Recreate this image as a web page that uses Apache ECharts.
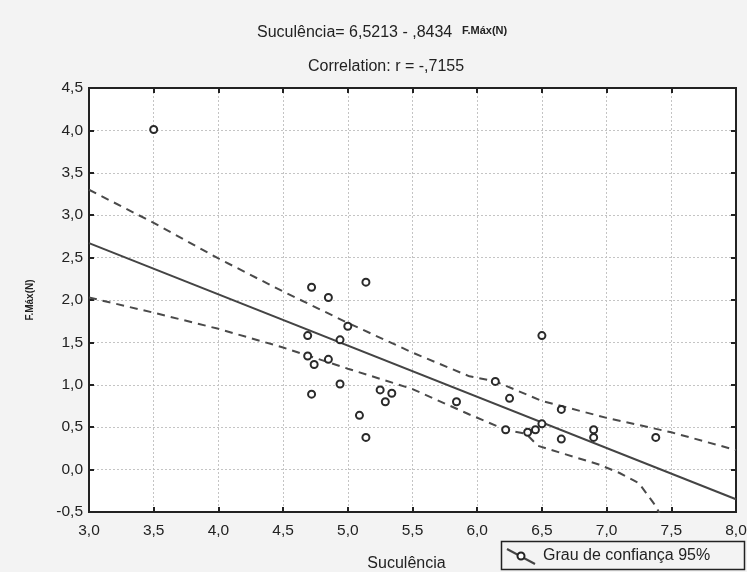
<!DOCTYPE html>
<html><head><meta charset="utf-8">
<script src="https://cdn.jsdelivr.net/npm/echarts@6/dist/echarts.min.js"></script>
<style>html,body{margin:0;padding:0;background:#f3f3f3;}#c{width:747px;height:572px;}</style>
</head><body><div id="c"></div>
<script>
// Data
const suculencia = [3.50, 4.72, 4.85, 5.14, 5.00, 4.69, 4.94, 4.69, 4.74, 4.85, 4.94, 4.72, 5.25, 5.34, 5.29, 5.09, 5.14, 5.84, 6.50, 6.14, 6.25, 6.65, 6.22, 6.39, 6.45, 6.50, 6.65, 6.90, 6.90, 7.38];
const fmax       = [4.01, 2.15, 2.03, 2.21, 1.69, 1.58, 1.53, 1.34, 1.24, 1.30, 1.01, 0.89, 0.94, 0.90, 0.80, 0.64, 0.38, 0.80, 1.58, 1.04, 0.84, 0.71, 0.47, 0.44, 0.47, 0.54, 0.36, 0.47, 0.38, 0.38];
const fitX = [3.0, 8.0];
const fitY = [2.67, -0.35];
const upperX = [3.0, 3.5, 4.0, 4.5, 5.0, 5.5, 5.94, 6.14, 6.5, 7.0, 7.5, 8.0];
const upperY = [3.30, 2.91, 2.49, 2.10, 1.73, 1.38, 1.10, 1.04, 0.81, 0.61, 0.44, 0.23];
const lowerX = [3.0, 3.5, 4.0, 4.5, 5.0, 5.5, 5.94, 6.22, 6.38, 6.47, 6.94, 7.10, 7.25, 7.38, 7.42];
const lowerY = [2.03, 1.85, 1.66, 1.44, 1.19, 0.95, 0.65, 0.47, 0.42, 0.28, 0.06, -0.04, -0.16, -0.43, -0.55];
const xTicks = {min: 3.0, max: 8.0, interval: 0.5};
const yTicks = {min: -0.5, max: 4.5, interval: 0.5};
const titleLine1 = "Suculência= 6,5213 - ,8434";
const titleSup = "F.Máx(N)";
const titleLine2 = "Correlation: r = -,7155";
const xName = "Suculência";
const yName = "F.Máx(N)";
const legendLabel = "Grau de confiança 95%";

const pairs = (xs, ys) => xs.map((x, i) => [x, ys[i]]);
const fmt = v => v.toFixed(1).replace('.', ',');
const FONT = 'Liberation Sans, Arial, sans-serif';

const chart = echarts.init(document.getElementById('c'), null, {renderer: 'canvas'});
const gridLine = {show: true, lineStyle: {color: '#c4c4c4', type: [2, 2], width: 1}};
const axisLine = {show: true, onZero: false, lineStyle: {color: '#222', width: 2}};
const axisTick = {show: true, inside: true, length: 5, lineStyle: {color: '#222', width: 2}};
chart.setOption({
  backgroundColor: '#f3f3f3',
  animation: false,
  textStyle: {fontFamily: FONT},
  title: [
    {text: titleLine1, left: 257, top: 25, padding: 0, textStyle: {fontSize: 16, fontWeight: 'normal', color: '#222', fontFamily: FONT}},
    {text: titleLine2, left: 308, top: 59, padding: 0, textStyle: {fontSize: 16, fontWeight: 'normal', color: '#222', fontFamily: FONT}}
  ],
  grid: {left: 89, right: 11, top: 88, bottom: 60, show: true, backgroundColor: '#ffffff', borderColor: '#222', borderWidth: 2, containLabel: false, outerBoundsMode: 'none'},
  xAxis: [
    {type: 'value', min: xTicks.min, max: xTicks.max, interval: xTicks.interval, position: 'bottom',
     name: xName, nameLocation: 'middle', nameGap: 44,
     nameTextStyle: {fontSize: 16, color: '#222', fontFamily: FONT, padding: [0, 12, 0, 0]},
     axisLine: axisLine, axisTick: axisTick,
     axisLabel: {fontSize: 15.5, color: '#222', margin: 11, formatter: fmt, showMaxLabel: true},
     splitLine: gridLine},
    {type: 'value', min: xTicks.min, max: xTicks.max, interval: xTicks.interval, position: 'top',
     axisLine: axisLine, axisTick: axisTick,
     axisLabel: {show: false}, splitLine: {show: false}}
  ],
  yAxis: [
    {type: 'value', min: yTicks.min, max: yTicks.max, interval: yTicks.interval, position: 'left',
     name: yName, nameLocation: 'middle', nameGap: 54,
     nameTextStyle: {fontSize: 10, fontWeight: 'bold', color: '#222', fontFamily: FONT},
     axisLine: axisLine, axisTick: axisTick,
     axisLabel: {fontSize: 15.5, color: '#222', margin: 6, formatter: fmt},
     splitLine: gridLine},
    {type: 'value', min: yTicks.min, max: yTicks.max, interval: yTicks.interval, position: 'right',
     axisLine: axisLine, axisTick: axisTick,
     axisLabel: {show: false}, splitLine: {show: false}}
  ],
  series: [
    {type: 'line', data: pairs(upperX, upperY), showSymbol: false, symbol: 'none', clip: true,
     lineStyle: {color: '#4a4a4a', width: 2, type: [8, 6]}, z: 2},
    {type: 'line', data: pairs(lowerX, lowerY), showSymbol: false, symbol: 'none', clip: true,
     lineStyle: {color: '#4a4a4a', width: 2, type: [8, 6]}, z: 2},
    {type: 'line', data: pairs(fitX, fitY), showSymbol: false, symbol: 'none', clip: true,
     lineStyle: {color: '#444', width: 2}, z: 3},
    {type: 'scatter', data: pairs(suculencia, fmax), symbol: 'circle', symbolSize: 7,
     itemStyle: {color: '#ffffff', borderColor: '#2a2a2a', borderWidth: 2, opacity: 1}, z: 5}
  ],
  graphic: [
    {type: 'text', left: 462, top: 25, style: {text: titleSup, font: 'bold 11px ' + FONT, fill: '#222'}},
    {type: 'rect', shape: {x: 501.5, y: 541.5, width: 243, height: 28}, style: {fill: 'none', stroke: '#222', lineWidth: 1.5}},
    {type: 'line', shape: {x1: 507, y1: 549, x2: 535, y2: 564}, style: {stroke: '#444', lineWidth: 2}},
    {type: 'circle', shape: {cx: 521, cy: 556, r: 3.5}, style: {fill: '#fff', stroke: '#222', lineWidth: 2}},
    {type: 'text', left: 543, top: 548, style: {text: legendLabel, font: '16px ' + FONT, fill: '#222'}}
  ]
});
</script></body></html>
